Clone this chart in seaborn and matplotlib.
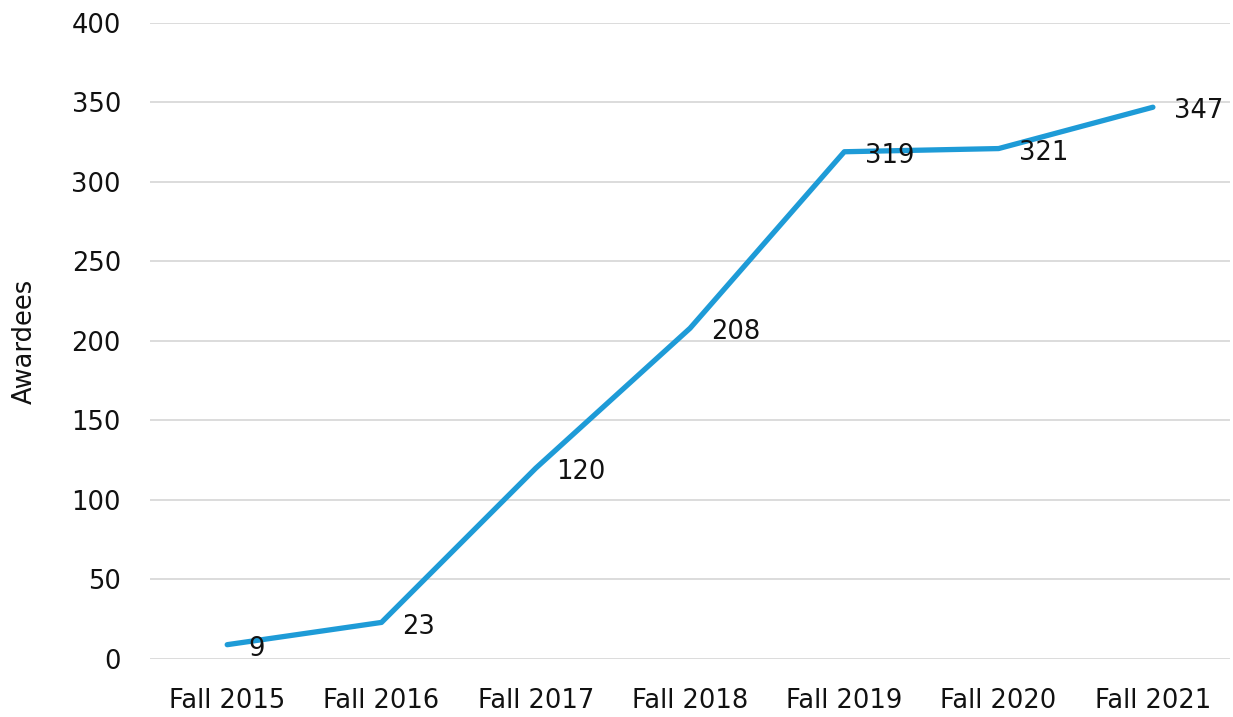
import matplotlib
matplotlib.use("Agg")
import matplotlib.pyplot as plt
import seaborn as sns
import pandas as pd

# chart data
terms = ["Fall 2015", "Fall 2016", "Fall 2017", "Fall 2018", "Fall 2019", "Fall 2020", "Fall 2021"]
awardees = [9, 23, 120, 208, 319, 321, 347]
y_ticks = [0, 50, 100, 150, 200, 250, 300, 350, 400]

df = pd.DataFrame({"term": terms, "awardees": awardees})
df["pos"] = range(len(df))

sns.set_style("white")
plt.rcParams["font.family"] = ["DejaVu Sans"]

fig = plt.figure(figsize=(12.33, 7.17), dpi=100)
ax = fig.add_axes([0.1217, 0.0809, 0.8759, 0.8871])

sns.lineplot(data=df, x="pos", y="awardees", color="#1E9BD7", linewidth=3.8, ax=ax)

# value labels, right of each point
for _, r in df.iterrows():
    ax.annotate(str(r["awardees"]), (r["pos"], r["awardees"]), xytext=(15, -3),
                textcoords="offset points", ha="left", va="center",
                fontsize=18.5, color="#111111")

ax.set_xlim(-0.5, len(terms) - 0.5)
ax.set_ylim(0, 400)
ax.set_xticks(df["pos"])
ax.set_xticklabels(terms)
ax.set_yticks(y_ticks)
ax.tick_params(axis="both", labelsize=18.5, length=0, colors="#111111")
ax.tick_params(axis="y", pad=21)
ax.tick_params(axis="x", pad=21)
ax.grid(axis="y", color="#D9D9D9", linewidth=1.3)
ax.set_axisbelow(True)
for s in ax.spines.values():
    s.set_visible(False)
ax.set_xlabel("")
ax.set_ylabel("Awardees", fontsize=18.5, color="#111111", labelpad=24)

fig.savefig("out.png", dpi=100)
